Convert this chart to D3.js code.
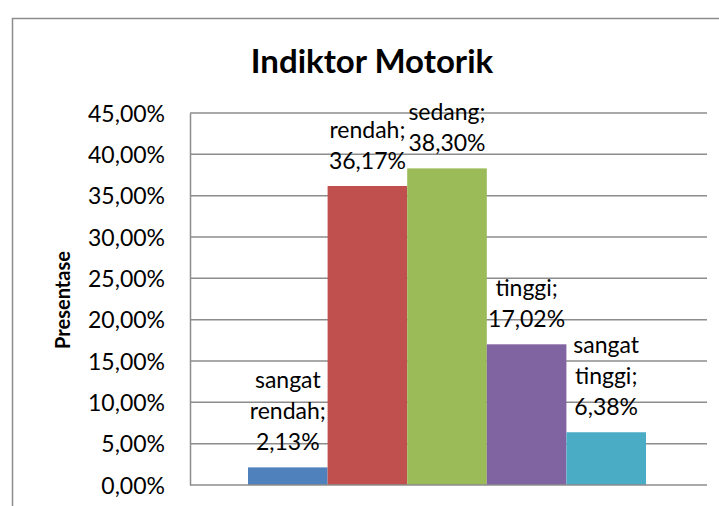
<script src="https://d3js.org/d3.v7.min.js"></script>
<style>
  body { margin: 0; background: #fff; }
  svg { display: block; }
  text { font-family: Lato, sans-serif; fill: #000; }
</style>
<body>
<div id="chart"></div>
<script>
  // chart data
  var categories = ["sangat rendah", "rendah", "sedang", "tinggi", "sangat tinggi"];
  var values = [2.13, 36.17, 38.30, 17.02, 6.38];
  var colors = ["#4F81BD", "#C0504D", "#9BBB59", "#8064A2", "#4BACC6"];
  var yTicks = [0, 5, 10, 15, 20, 25, 30, 35, 40, 45];

  var W = 719, H = 506;
  var plot = { left: 190, right: 707, top: 113, bottom: 485 };

  var svg = d3.select("#chart").append("svg")
    .attr("width", W).attr("height", H);

  // outer chart frame (runs off the right / bottom edge)
  svg.append("rect")
    .attr("x", 12.5).attr("y", 18.5)
    .attr("width", 760).attr("height", 540)
    .attr("fill", "none").attr("stroke", "#8c8c8c").attr("stroke-width", 1.5);

  var fmt = function (v) { return d3.format(".2f")(v).replace(".", ",") + "%"; };

  var y = d3.scaleLinear().domain([0, 45]).range([plot.bottom, plot.top]);
  var x = d3.scaleBand().domain(categories).range([248, 646]).padding(0);

  // gridlines
  svg.append("g").selectAll("line")
    .data(yTicks.slice(1))
    .enter().append("line")
    .attr("x1", plot.left).attr("x2", plot.right)
    .attr("y1", function (d) { return y(d); })
    .attr("y2", function (d) { return y(d); })
    .attr("stroke", "#8c8c8c").attr("stroke-width", 1.5);

  // y axis
  var yAxis = svg.append("g")
    .attr("transform", "translate(" + plot.left + ",0)")
    .call(d3.axisLeft(y).tickValues(yTicks).tickSize(0).tickPadding(25).tickFormat(fmt));
  yAxis.select(".domain").attr("stroke", "#8c8c8c").attr("stroke-width", 1.5);
  yAxis.selectAll("text")
    .style("font-family", "Lato, sans-serif")
    .style("font-size", "23px")
    .attr("dy", "0.36em");

  // bars
  svg.append("g").selectAll("rect")
    .data(values)
    .enter().append("rect")
    .attr("x", function (d, i) { return x(categories[i]); })
    .attr("y", function (d) { return y(d); })
    .attr("width", x.bandwidth())
    .attr("height", function (d) { return plot.bottom - y(d); })
    .attr("fill", function (d, i) { return colors[i]; });

  // x axis line
  svg.append("line")
    .attr("x1", plot.left).attr("x2", plot.right)
    .attr("y1", plot.bottom).attr("y2", plot.bottom)
    .attr("stroke", "#8c8c8c").attr("stroke-width", 1.5);

  // data labels: "name; value" wrapped one word per line
  var lineH = 31;
  svg.append("g").selectAll("text")
    .data(values)
    .enter().append("text")
    .attr("text-anchor", "middle")
    .style("font-size", "23px")
    .each(function (d, i) {
      var words = (categories[i] + "; " + fmt(d)).split(" ");
      var cx = x(categories[i]) + x.bandwidth() / 2;
      var base = y(d) - 17;
      var t = d3.select(this);
      words.forEach(function (w, k) {
        t.append("tspan")
          .attr("x", cx)
          .attr("y", base - (words.length - 1 - k) * lineH)
          .text(w);
      });
    });

  // title
  svg.append("text")
    .attr("x", 372).attr("y", 73)
    .attr("text-anchor", "middle")
    .style("font-size", "33px").style("font-weight", "bold")
    .text("Indiktor Motorik");

  // y axis title
  svg.append("text")
    .attr("transform", "translate(70,300) rotate(-90)")
    .attr("text-anchor", "middle")
    .style("font-size", "20px").style("font-weight", "bold")
    .text("Presentase");
</script>
</body>
